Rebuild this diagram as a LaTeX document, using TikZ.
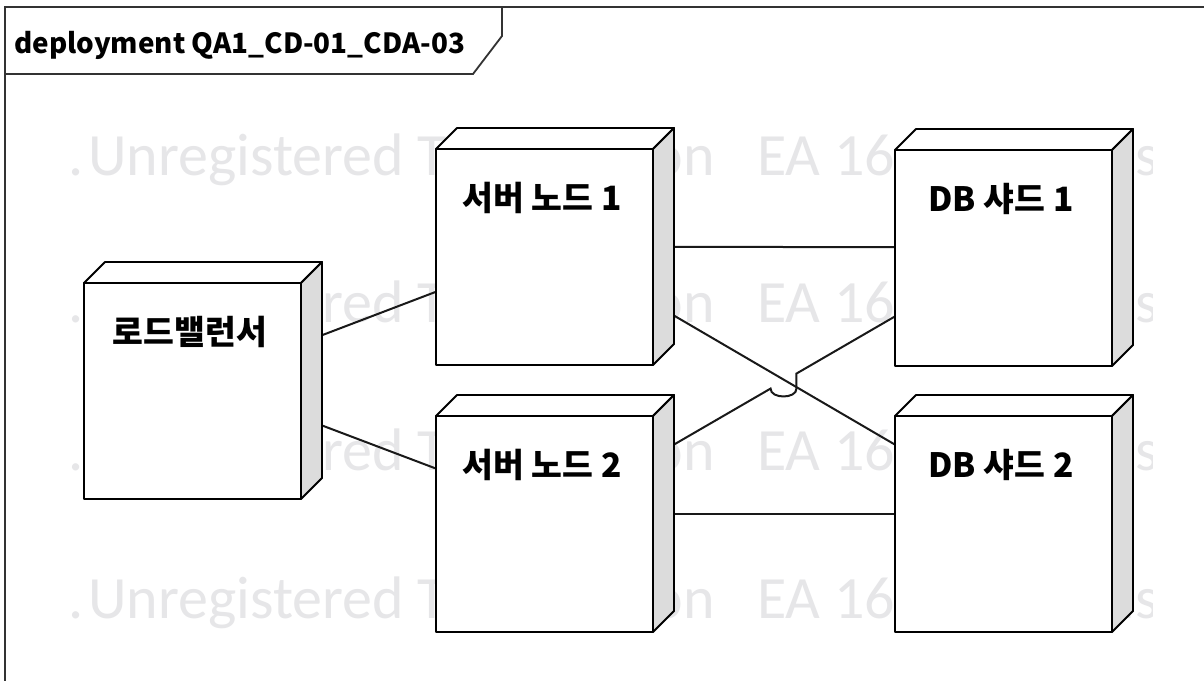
\documentclass[tikz,border=0pt]{standalone}
\usepackage{fontspec}
\usetikzlibrary{calc}
\newfontfamily\krfont{Noto Sans CJK KR}
\newfontfamily\wmfont{Carlito}
\definecolor{sidegray}{RGB}{220,220,220}
\definecolor{wmgray}{RGB}{230,230,232}
\tikzset{
  frameline/.style={line width=1.8pt, black!80, line join=miter},
  conn/.style={line width=2pt, black!90},
  device/.style={rectangle, minimum width=238pt, minimum height=237pt,
                 inner sep=0pt, outer sep=0pt},
  face/.style={draw=black, line width=1.9pt, line join=round},
  devtext/.style={font=\krfont\bfseries\fontsize{33.5}{40}\selectfont, inner sep=0pt},
  wmtext/.style={font=\wmfont\fontsize{60}{66}\selectfont, text=wmgray,
                 anchor=base west, inner sep=0pt},
}
\begin{document}
\begin{tikzpicture}[x=1pt, y=-1pt]
\useasboundingbox (0,0) rectangle (1204,680);
\fill[white] (0,0) rectangle (1204,680);

% evaluation watermark rows behind the diagram, cut off at the tile edge
\begin{scope}
\clip (60,0) rectangle (1152,680);
\foreach \yb/\r in {175/1, 322.7/2, 470.3/3, 618/4} {
  \node[wmtext] (wmDot\r) at (68,\yb) {.};
  \node[wmtext] (wmA\r) at (88,\yb) {Unregistered Trial Version};
  \node[wmtext] (wmB\r) at (757,\yb) {EA 16.1\hspace{33pt}Unregis};
}
\end{scope}

% diagram frame and its name tab
\draw[frameline] (5,682) -- (5,7) -- (1206,7);
\draw[frameline] (5,74) -- (473,74) -- (502,36) -- (502,7);
\node[anchor=base west, inner sep=0pt, font=\krfont\bfseries\fontsize{27.8}{33}\selectfont]
  (title) at (14,53) {deployment QA1\_CD-01\_CDA-03};

% node bounding boxes (front face plus depth)
\node[device] (lb) at (203,380.5) {};
\node[device] (s1) at (555,246.5) {};
\node[device] (s2) at (555,513.5) {};
\node[device] (d1) at (1014,247.5) {};
\node[device] (d2) at (1014,513.5) {};

% links
\draw[conn] (lb) -- (s1);
\draw[conn] (lb) -- (s2);
\draw[conn] (s1) -- (d1);
\draw[conn] (s2) -- (d2);
\draw[conn] (s1) -- (d2);
\coordinate (hopA) at ($(s2.center)!0.4696!(d1.center)$);
\coordinate (hopB) at ($(s2.center)!0.5261!(d1.center)$);
\draw[conn] (s2) -- (hopA)
  .. controls ($(hopA)+(0,10.5)$) and ($(hopB |- hopA)+(0,10.5)$) .. (hopB |- hopA)
  -- (hopB) -- (d1);

% 3D node boxes
\foreach \n/\t in {lb/로드밸런서, s1/서버 노드 1, s2/서버 노드 2, d1/DB 샤드 1, d2/DB 샤드 2} {
  \draw[face, fill=white] ($(\n.north west)+(0,21)$) rectangle ($(\n.south east)+(-21,0)$);
  \draw[face, fill=white] ($(\n.north west)+(0,21)$) -- ($(\n.north west)+(21,0)$)
     -- (\n.north east) -- ($(\n.north east)+(-21,21)$) -- cycle;
  \draw[face, fill=sidegray] ($(\n.north east)+(-21,21)$) -- (\n.north east)
     -- ($(\n.south east)+(0,-21)$) -- ($(\n.south east)+(-21,0)$) -- cycle;
  \node[devtext] (\n-label) at ($(\n.north west)+(106,70)$) {\t};
}
\end{tikzpicture}
\end{document}
